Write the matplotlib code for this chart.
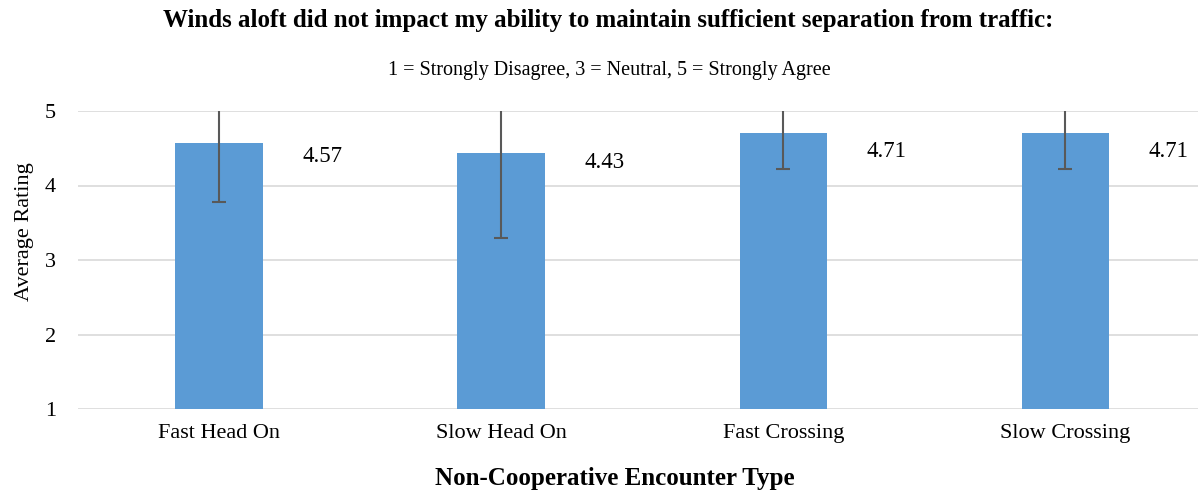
import matplotlib
matplotlib.use("Agg")
import matplotlib.pyplot as plt
import numpy as np

categories = ["Fast Head On", "Slow Head On", "Fast Crossing", "Slow Crossing"]
values = [4.57, 4.43, 4.71, 4.71]
errors = [0.79, 1.13, 0.49, 0.49]
yticks = [1, 2, 3, 4, 5]

plt.rcParams['font.family'] = ['Liberation Serif', 'DejaVu Serif']

W, H = 1198, 493
fig = plt.figure(figsize=(W/100, H/100), dpi=100)
ax = fig.add_axes([78/W, 1 - 409/H, (1198-78)/W, (409-111)/H])

x = np.arange(len(categories))
ax.bar(x, values, width=0.31, color="#5B9BD5", zorder=2)
ax.errorbar(x, values, yerr=errors, fmt='none', ecolor="#595959", elinewidth=1.5,
            capsize=5, capthick=1.5, zorder=3)

for xi, v in zip(x, values):
    ax.text(xi + 0.365, (v + 4.2) / 2, f"{v:.2f}", ha='center', va='center', fontsize=16.5, color="#000000")

ax.set_xlim(-0.5, 3.47)
ax.set_ylim(1, 5)
ax.set_yticks(yticks)
ax.set_xticks(x)
ax.set_xticklabels(categories, fontsize=16)
ax.tick_params(axis='y', labelsize=16, length=0, pad=16)
ax.tick_params(axis='x', length=0, pad=11)
ax.yaxis.grid(True, color="#D9D9D9", linewidth=1.2, zorder=0)
ax.set_axisbelow(True)
for s in ax.spines.values():
    s.set_visible(False)

ax.set_ylabel("Average Rating", fontsize=16)
ax.yaxis.set_label_coords(-44 / (1198-78), (409-232) / (409-111))
ax.set_xlabel("Non-Cooperative Encounter Type", fontsize=18, fontweight='bold')
ax.xaxis.set_label_coords((615-78) / (1198-78), -(478-409) / (409-111))
ax.xaxis.label.set_va('center')

fig.text(608/W, 1 - 20/H, "Winds aloft did not impact my ability to maintain sufficient separation from traffic:",
         ha='center', va='center', fontsize=18, fontweight='bold')
fig.text(609/W, 1 - 71/H, "1 = Strongly Disagree, 3 = Neutral, 5 = Strongly Agree",
         ha='center', va='center', fontsize=14.5)

fig.savefig("out.png", dpi=100)
